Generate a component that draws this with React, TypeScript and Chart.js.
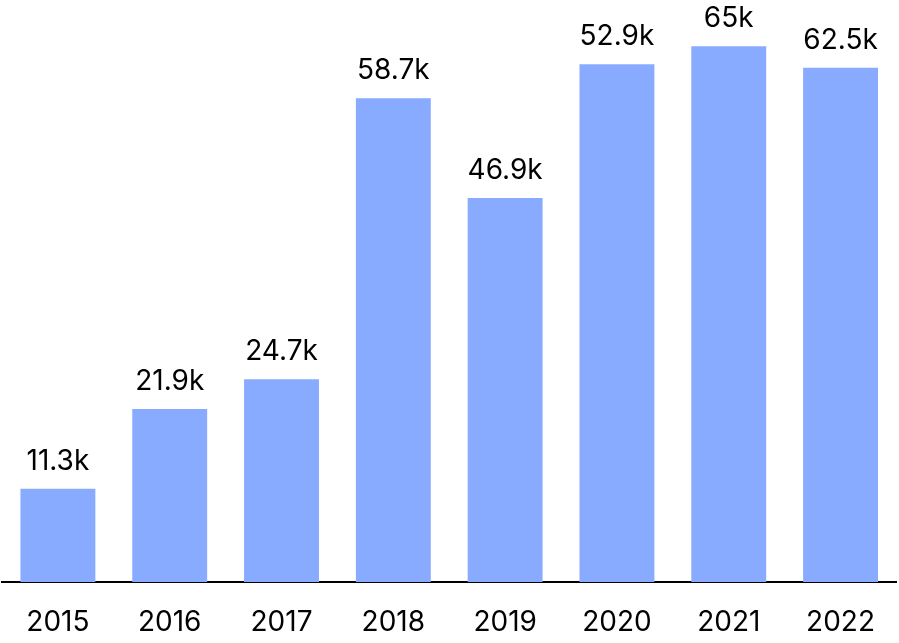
import React, { useEffect, useRef } from "react";
import { Chart, registerables } from "chart.js";

Chart.register(...registerables);

const years = ["2015", "2016", "2017", "2018", "2019", "2020", "2021", "2022"];
const values = [11300, 21000, 24600, 58700, 46600, 62800, 65000, 62400];
const valueLabels = ["11.3k", "21.9k", "24.7k", "58.7k", "46.9k", "52.9k", "65k", "62.5k"];

const FONT = "Inter, 'Liberation Sans', Arial, sans-serif";

const labelPlugin = {
  id: "valueLabels",
  afterDatasetsDraw(chart: any) {
    const ctx = chart.ctx;
    const meta = chart.getDatasetMeta(0);
    ctx.save();
    ctx.font = `28px ${FONT}`;
    ctx.fillStyle = "#000";
    ctx.textAlign = "center";
    ctx.textBaseline = "alphabetic";
    meta.data.forEach((bar: any, i: number) => {
      ctx.fillText(valueLabels[i], bar.x, bar.y - 19);
    });
    ctx.restore();
  },
};

export default function App() {
  const ref = useRef<HTMLCanvasElement>(null);
  useEffect(() => {
    if (!ref.current) return;
    const chart = new Chart(ref.current, {
      type: "bar",
      data: {
        labels: years,
        datasets: [
          {
            data: values,
            backgroundColor: "#88aaff",
            borderWidth: 0,
            barPercentage: 0.67,
            categoryPercentage: 1,
          },
        ],
      },
      options: {
        animation: false,
        responsive: false,
        maintainAspectRatio: false,
        layout: { padding: { left: 2, right: 0, top: 5, bottom: 0 } },
        plugins: { legend: { display: false }, tooltip: { enabled: false } },
        scales: {
          y: { display: false, min: 0, max: 70000 },
          x: {
            grid: { display: false, drawTicks: false },
            border: { display: true, color: "#000", width: 2 },
            ticks: { color: "#000", font: { family: FONT, size: 28 }, padding: 24, maxRotation: 0 },
            afterFit: (scale: any) => {
              scale.height = 61;
            },
          },
        },
      },
      plugins: [labelPlugin],
    });
    return () => chart.destroy();
  }, []);
  return (
    <div style={{ position: "fixed", left: 0, top: 0, width: 899, height: 643, background: "#fff" }}>
      <canvas ref={ref} width={899} height={643} style={{ display: "block" }} />
    </div>
  );
}
